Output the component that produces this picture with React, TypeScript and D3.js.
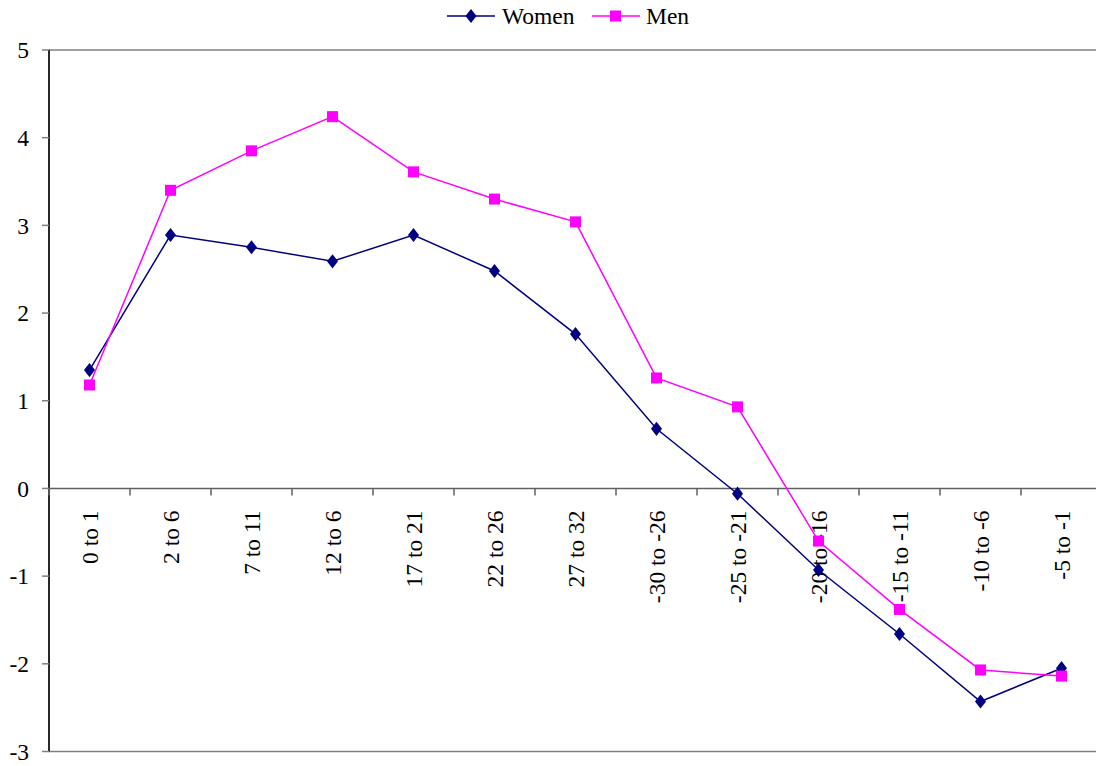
import { useEffect, useRef } from "react";
import * as d3 from "d3";

const categories = [
  "0 to 1", "2 to 6", "7 to 11", "12 to 6", "17 to 21", "22 to 26", "27 to 32",
  "-30 to -26", "-25 to -21", "-20 to -16", "-15 to -11", "-10 to -6", "-5 to -1",
];
const women = [1.35, 2.89, 2.75, 2.59, 2.89, 2.48, 1.76, 0.68, -0.06, -0.93, -1.66, -2.43, -2.05];
const men = [1.18, 3.4, 3.85, 4.24, 3.61, 3.3, 3.04, 1.26, 0.93, -0.6, -1.38, -2.07, -2.14];
const yTicks = [5, 4, 3, 2, 1, 0, -1, -2, -3];

const W = 1096;
const H = 766;
const PLOT = { left: 49, top: 50, bottom: 751.5, band: 81 };
const FONT = "Liberation Serif, DejaVu Serif, serif";
const FS = 23.5;

export default function App() {
  const svgRef = useRef<SVGSVGElement>(null);

  useEffect(() => {
    if (!svgRef.current) return;
    const svg = d3.select(svgRef.current);
    svg.selectAll("*").remove();

    const right = PLOT.left + PLOT.band * categories.length;
    const x = d3.scaleBand<string>().domain(categories).range([PLOT.left, right]);
    const y = d3.scaleLinear().domain([-3, 5]).range([PLOT.bottom, PLOT.top]);
    const cx = (c: string) => (x(c) ?? 0) + x.bandwidth() / 2;

    // plot area border
    svg.append("rect")
      .attr("x", PLOT.left).attr("y", PLOT.top)
      .attr("width", right - PLOT.left).attr("height", PLOT.bottom - PLOT.top)
      .attr("fill", "none").attr("stroke", "#808080").attr("stroke-width", 1.5);

    // y axis
    const yAxis = svg.append("g");
    yAxis.append("line")
      .attr("x1", PLOT.left).attr("x2", PLOT.left)
      .attr("y1", PLOT.top).attr("y2", PLOT.bottom)
      .attr("stroke", "#000").attr("stroke-width", 1.5);
    yAxis.selectAll(".yt").data(yTicks).enter().append("line")
      .attr("x1", PLOT.left - 7).attr("x2", PLOT.left)
      .attr("y1", (d) => y(d)).attr("y2", (d) => y(d))
      .attr("stroke", "#808080").attr("stroke-width", 1.5);
    yAxis.selectAll(".yl").data(yTicks).enter().append("text")
      .attr("x", 29).attr("y", (d) => y(d))
      .attr("dy", "0.35em").attr("text-anchor", "end")
      .style("font-family", FONT).style("font-size", `${FS}px`)
      .text((d) => String(d));

    // x axis at zero
    const y0 = y(0);
    svg.append("line")
      .attr("x1", PLOT.left).attr("x2", right)
      .attr("y1", y0).attr("y2", y0)
      .attr("stroke", "#606060").attr("stroke-width", 1.5);
    const ticks = d3.range(categories.length + 1).map((i) => PLOT.left + i * x.step());
    svg.selectAll(".xt").data(ticks).enter().append("line")
      .attr("x1", (d) => d).attr("x2", (d) => d)
      .attr("y1", y0).attr("y2", y0 + 7)
      .attr("stroke", "#606060").attr("stroke-width", 1.5);
    svg.selectAll(".xl").data(categories).enter().append("text")
      .attr("transform", (d) => `translate(${cx(d) + 8},${y0 + 22}) rotate(-90)`)
      .attr("text-anchor", "end")
      .style("font-family", FONT).style("font-size", `${FS}px`)
      .text((d) => d);

    const line = d3.line<number>()
      .x((_, i) => cx(categories[i]))
      .y((d) => y(d));

    // women
    svg.append("path").datum(women)
      .attr("d", line).attr("fill", "none")
      .attr("stroke", "#000080").attr("stroke-width", 1.5);
    svg.selectAll(".wm").data(women).enter().append("path")
      .attr("d", d3.symbol(d3.symbolDiamond, 80)())
      .attr("transform", (d, i) => `translate(${cx(categories[i])},${y(d)}) scale(1.15,0.85)`)
      .attr("fill", "#000080");

    // men
    svg.append("path").datum(men)
      .attr("d", line).attr("fill", "none")
      .attr("stroke", "#FF00FF").attr("stroke-width", 1.5);
    svg.selectAll(".mm").data(men).enter().append("rect")
      .attr("x", (d, i) => cx(categories[i]) - 5.5)
      .attr("y", (d) => y(d) - 5.5)
      .attr("width", 11).attr("height", 11)
      .attr("fill", "#FF00FF");

    // legend
    const lg = svg.append("g").attr("transform", "translate(0,16)");
    lg.append("line").attr("x1", 447).attr("x2", 495).attr("y1", 0).attr("y2", 0)
      .attr("stroke", "#000080").attr("stroke-width", 1.5);
    lg.append("path").attr("d", d3.symbol(d3.symbolDiamond, 80)())
      .attr("transform", "translate(471,0) scale(1.15,0.85)").attr("fill", "#000080");
    lg.append("text").attr("x", 502).attr("y", 0).attr("dy", "0.35em")
      .style("font-family", FONT).style("font-size", `${FS}px`).text("Women");
    lg.append("line").attr("x1", 592).attr("x2", 640).attr("y1", 0).attr("y2", 0)
      .attr("stroke", "#FF00FF").attr("stroke-width", 1.5);
    lg.append("rect").attr("x", 610).attr("y", -5.5).attr("width", 11).attr("height", 11)
      .attr("fill", "#FF00FF");
    lg.append("text").attr("x", 646).attr("y", 0).attr("dy", "0.35em")
      .style("font-family", FONT).style("font-size", `${FS}px`).text("Men");
  }, []);

  return (
    <svg
      ref={svgRef}
      width={W}
      height={H}
      style={{ position: "absolute", left: 0, top: 0, background: "#fff" }}
    />
  );
}
